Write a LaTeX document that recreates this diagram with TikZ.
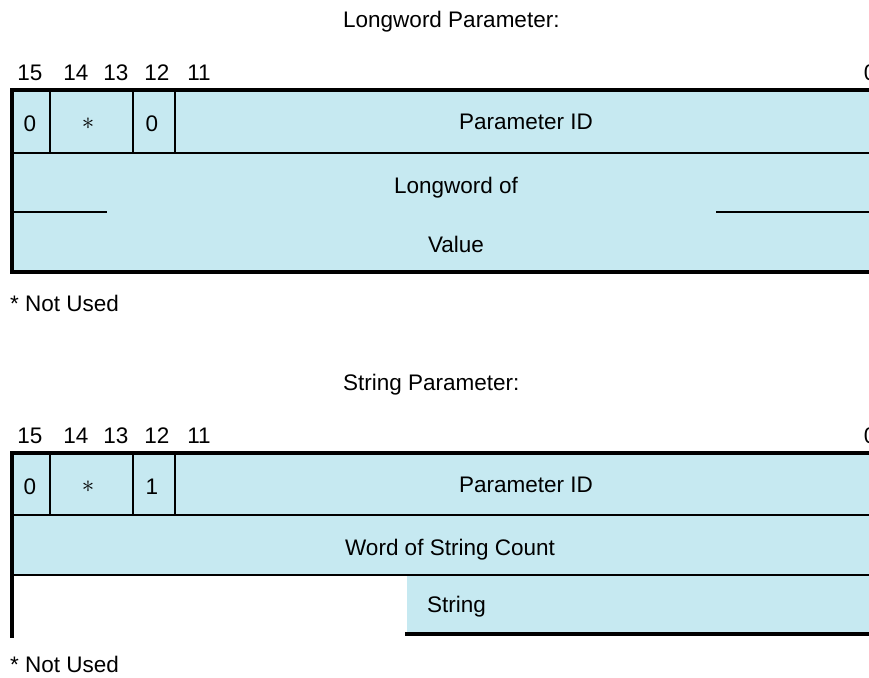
\documentclass[tikz,border=0pt]{standalone}
\usepackage{fontspec}
\setmainfont{Liberation Sans}
\definecolor{cellblue}{RGB}{198,233,241}
\begin{document}
\begin{tikzpicture}[x=1pt,y=-1pt,
  txt/.style={inner sep=0pt, anchor=base, font=\fontsize{22.5}{26}\selectfont},
  ltxt/.style={txt, anchor=base west},
  star/.style={inner sep=0pt, anchor=center, font=\fontsize{30}{30}\selectfont},
  outer/.style={line width=4.5pt, line cap=rect},
  rule/.style={line width=2pt}]
\useasboundingbox (0,0) rectangle (869,677);

% ---------- Longword parameter ----------
\node[ltxt] (title1) at (343,28) {Longword Parameter:};
\node[txt] (b15a) at (30,80) {15};
\node[txt] (b14a) at (76,80) {14};
\node[txt] (b13a) at (116,80) {13};
\node[txt] (b12a) at (157,80) {12};
\node[txt] (b11a) at (199,80) {11};
\node[txt] (b0a)  at (870,80) {0};

\fill[cellblue] (12,90) rectangle (869,272);
\draw[rule] (12,153) -- (869,153);
\draw[rule] (50,90) -- (50,153);
\draw[rule] (133,90) -- (133,153);
\draw[rule] (175,90) -- (175,153);
\draw[rule] (12,212) -- (107,212);
\draw[rule] (716,212) -- (869,212);
\draw[outer] (12,90) -- (869,90);
\draw[outer] (12,90) -- (12,272) -- (869,272);

\node[txt] (c0a) at (30,131) {0};
\node[star] (csa) at (88,124) {$\ast$};
\node[txt] (c1a) at (152,131) {0};
\node[txt] (pida) at (526,129) {Parameter ID};
\node[txt] (lw) at (456,193) {Longword of};
\node[txt] (val) at (456,252) {Value};
\node[ltxt] (nu1) at (10,311) {* Not Used};

% ---------- String parameter ----------
\node[ltxt] (title2) at (343,390) {String Parameter:};
\node[txt] (b15b) at (30,443) {15};
\node[txt] (b14b) at (76,443) {14};
\node[txt] (b13b) at (116,443) {13};
\node[txt] (b12b) at (157,443) {12};
\node[txt] (b11b) at (199,443) {11};
\node[txt] (b0b)  at (870,443) {0};

\fill[cellblue] (12,453) rectangle (869,575);
\fill[cellblue] (407,575) rectangle (869,635);
\draw[rule] (12,515) -- (869,515);
\draw[rule] (12,575) -- (869,575);
\draw[rule] (50,453) -- (50,515);
\draw[rule] (133,453) -- (133,515);
\draw[rule] (175,453) -- (175,515);
\draw[outer] (12,453) -- (869,453);
\draw[outer] (12,453) -- (12,636);
\draw[outer] (407,634) -- (869,634);

\node[txt] (c0b) at (30,494) {0};
\node[star] (csb) at (88,487) {$\ast$};
\node[txt] (c1b) at (152,494) {1};
\node[txt] (pidb) at (526,492) {Parameter ID};
\node[txt] (wsc) at (450,555) {Word of String Count};
\node[ltxt] (str) at (427,612) {String};
\node[ltxt] (nu2) at (10,672) {* Not Used};
\end{tikzpicture}
\end{document}
